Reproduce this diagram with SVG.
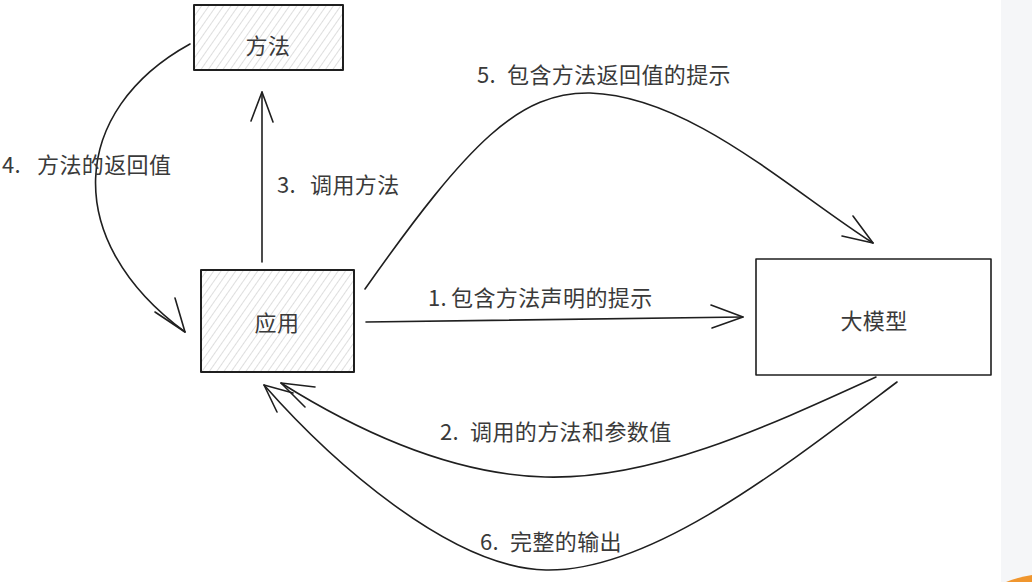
<svg xmlns="http://www.w3.org/2000/svg" width="1032" height="582" viewBox="0 0 1032 582">
  <style>
    .box { stroke: #1f1f1f; stroke-width: 2; stroke-linejoin: round; }
    .hatch { fill: url(#hatch); }
    .plain { fill: #ffffff; stroke-width: 1.6; }
    .lbl { font-family: "Noto Sans CJK SC", "Noto Sans", "Liberation Sans", sans-serif; font-size: 22px; letter-spacing: 0.4px; fill: #3a3a3a; }
    .node-lbl { text-anchor: middle; }
    .conn { fill: none; stroke: #1f1f1f; stroke-width: 1.6; stroke-linecap: round; stroke-linejoin: round; }
  </style>
  <defs>
    <pattern id="hatch" patternUnits="userSpaceOnUse" width="6" height="6" patternTransform="rotate(35)">
      <rect width="6" height="6" fill="#ffffff"/>
      <line x1="0" y1="0" x2="0" y2="6" stroke="#c8c8c8" stroke-width="1.2"/>
    </pattern>
  </defs>

  <rect x="0" y="0" width="1032" height="582" fill="#ffffff"/>
  <rect x="1001" y="0" width="31" height="582" fill="#f5f6f8"/>
  <path d="M1006 582 Q1019 577 1032 575 L1032 582 Z" fill="#f0962e"/>

  <g id="node-method">
    <rect class="box hatch" x="194" y="5" width="149" height="65"/>
    <text class="lbl node-lbl" x="268" y="54">方法</text>
  </g>

  <g id="node-app">
    <rect class="box hatch" x="201" y="270" width="153" height="102"/>
    <text class="lbl node-lbl" x="277" y="331">应用</text>
  </g>

  <g id="node-llm">
    <rect class="box plain" x="756" y="259" width="235" height="116"/>
    <text class="lbl node-lbl" x="874" y="329">大模型</text>
  </g>

  <g id="connectors">
    <!-- 1 -->
    <path class="conn" d="M366 322 L743 317"/>
    <path class="conn" d="M711 305 L743 317 L712 328"/>
    <!-- 3 -->
    <path class="conn" d="M262 262 L262 92"/>
    <path class="conn" d="M251 121 L262 92 L273 122"/>
    <!-- 4 -->
    <path class="conn" d="M190 44 C70 110, 60 240, 185 332"/>
    <path class="conn" d="M155 312 L185 332 L175 298"/>
    <!-- 5 -->
    <path class="conn" d="M365 289 C470 140, 520 92, 590 93 C690 96, 790 190, 873 243"/>
    <path class="conn" d="M853 216 L873 243 L842 236"/>
    <!-- 2 -->
    <path class="conn" d="M876 377 C760 430, 650 480, 545 477 C440 474, 340 420, 281 383"/>
    <path class="conn" d="M315 387 L281 383 L305 407"/>
    <!-- 6 -->
    <path class="conn" d="M897 382 C780 470, 650 572, 546 570 C450 568, 330 460, 264 385"/>
    <path class="conn" d="M277 412 L264 385 L293 393"/>
  </g>

  <g id="labels">
    <text class="lbl" x="477" y="83">5.<tspan x="507">包含方法返回值的提示</tspan></text>
    <text class="lbl" x="428" y="306">1.<tspan x="451">包含方法声明的提示</tspan></text>
    <text class="lbl" x="277" y="193">3.<tspan x="310">调用方法</tspan></text>
    <text class="lbl" x="2" y="173">4.<tspan x="37">方法的返回值</tspan></text>
    <text class="lbl" x="440" y="440">2.<tspan x="470">调用的方法和参数值</tspan></text>
    <text class="lbl" x="480" y="550">6.<tspan x="510">完整的输出</tspan></text>
  </g>
</svg>
